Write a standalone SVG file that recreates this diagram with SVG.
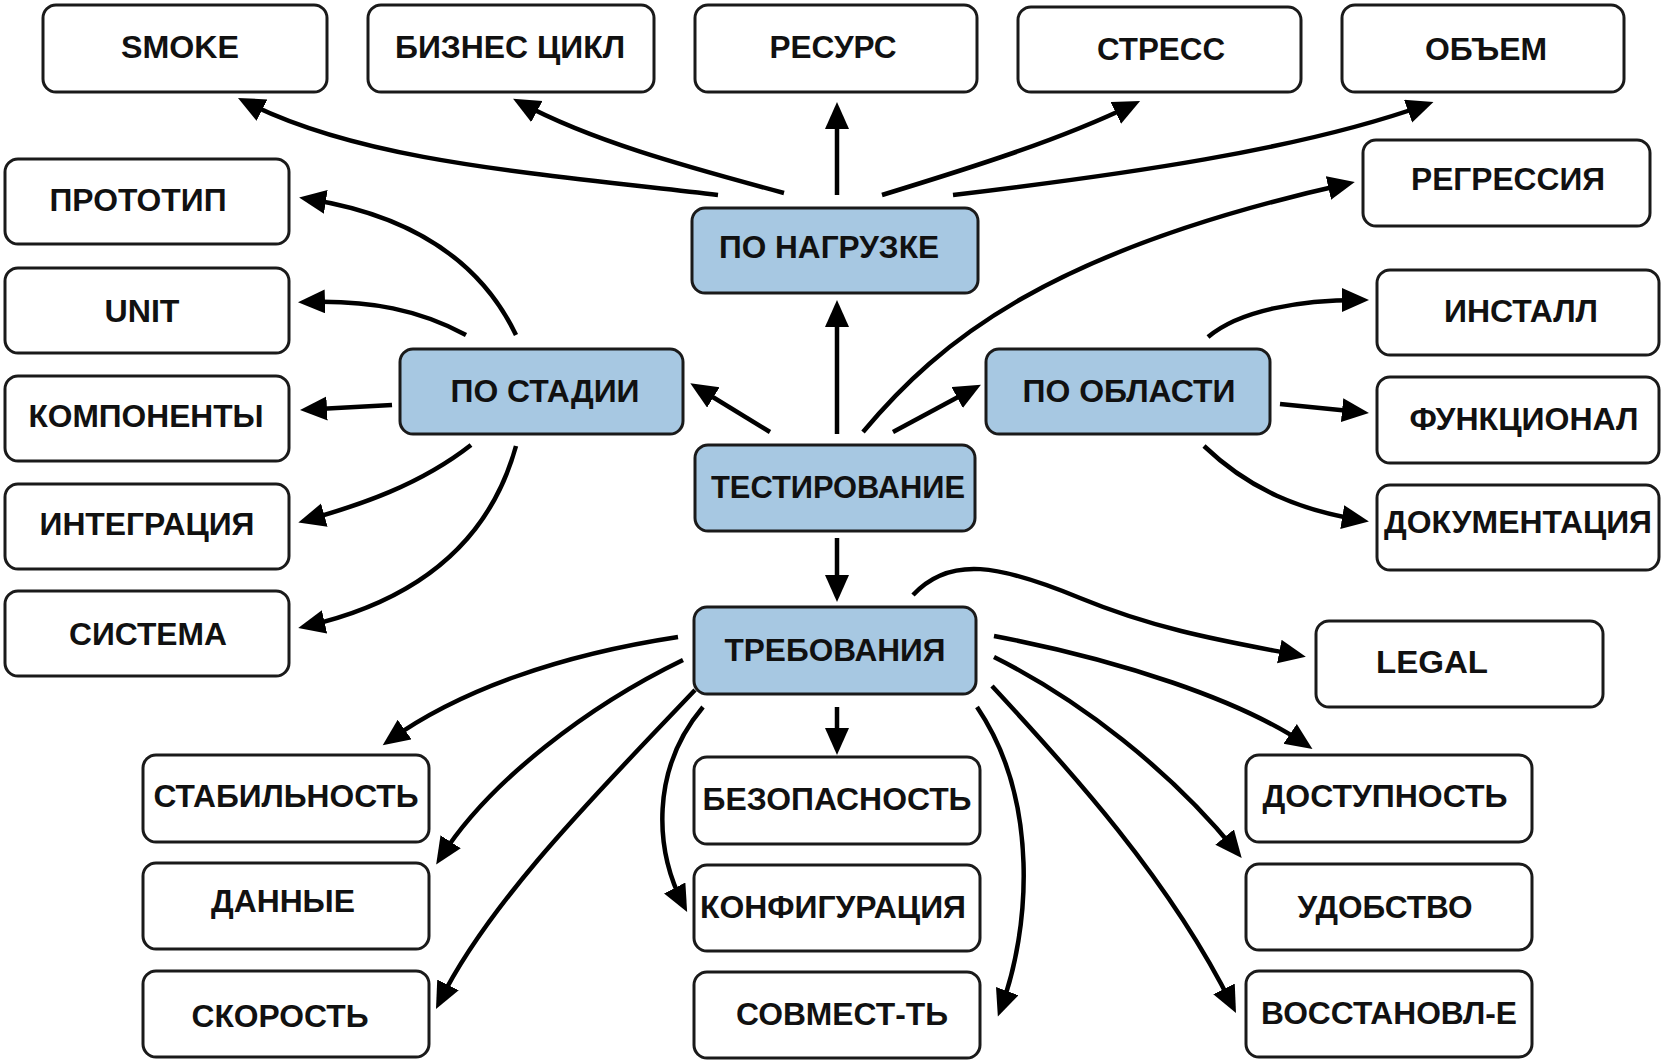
<svg xmlns="http://www.w3.org/2000/svg" width="1661" height="1060" viewBox="0 0 1661 1060">
<style>
.b{fill:#ffffff;stroke:#1a1a1a;stroke-width:3}
.h{fill:#a7c8e2;stroke:#1a1a1a;stroke-width:3}
text{font-family:"Liberation Sans",Arial,sans-serif;font-weight:bold;font-size:32px;fill:#111;text-anchor:middle}
.c path{fill:none;stroke:#000;stroke-width:4.5;marker-end:url(#ah)}
</style>
<defs>
<marker id="ah" markerUnits="userSpaceOnUse" markerWidth="30" markerHeight="26" refX="18" refY="12" orient="auto">
<path d="M0,0 L27,12 L0,24 z" fill="#000"/>
</marker>
</defs>
<g class="c" id="connectors">
<path d="M718,195 C520,172 360,160 246,102"/>
<path d="M784,193 C680,165 590,140 521,103"/>
<path d="M837,195 L837,111"/>
<path d="M882,195 C970,168 1060,140 1132,105"/>
<path d="M953,195 C1120,175 1300,150 1425,105"/>
<path d="M837,434 L837,309"/>
<path d="M770,432 L698,388"/>
<path d="M893,432 L973,389"/>
<path d="M863,432 C940,340 1050,250 1346,184"/>
<path d="M837,538 L837,593"/>
<path d="M516,335 C480,260 410,215 308,199"/>
<path d="M466,335 C420,310 370,300 307,302"/>
<path d="M392,405 L309,409.5"/>
<path d="M471,445 C420,485 360,505 307,520"/>
<path d="M516,446 C490,540 420,600 307,626"/>
<path d="M1208,337 C1240,310 1300,300 1360,300"/>
<path d="M1280,404 L1360,412"/>
<path d="M1204,446 C1250,490 1300,510 1360,520"/>
<path d="M913,595 C950,555 1000,565 1080,598 S1230,642 1297,655"/>
<path d="M994,636 C1120,660 1240,700 1305,744"/>
<path d="M994,657 C1080,700 1170,770 1236,851"/>
<path d="M992,686 C1070,770 1170,880 1232,1005"/>
<path d="M977,707 C1040,800 1030,930 1001,1008"/>
<path d="M837,707 L837,746"/>
<path d="M703,707 C650,770 655,850 683,904"/>
<path d="M695,690 C600,790 490,900 440,1001"/>
<path d="M683,660 C590,705 490,780 441,857"/>
<path d="M678,637 C560,655 460,690 390,740"/>
</g>
<g id="smoke"><rect class="b" x="43" y="5" width="284" height="87" rx="13"/><text x="180" y="57.5" textLength="118" lengthAdjust="spacingAndGlyphs">SMOKE</text></g>
<g id="biznes"><rect class="b" x="368" y="5" width="286" height="87" rx="13"/><text x="510" y="57.5" textLength="230" lengthAdjust="spacingAndGlyphs">БИЗНЕС ЦИКЛ</text></g>
<g id="resurs"><rect class="b" x="695" y="5" width="282" height="87" rx="13"/><text x="833" y="57.5" textLength="127" lengthAdjust="spacingAndGlyphs">РЕСУРС</text></g>
<g id="stress"><rect class="b" x="1018" y="7" width="283" height="85" rx="13"/><text x="1161" y="59.5" textLength="128" lengthAdjust="spacingAndGlyphs">СТРЕСС</text></g>
<g id="obem"><rect class="b" x="1342" y="5" width="282" height="87" rx="13"/><text x="1486" y="59.5" textLength="122" lengthAdjust="spacingAndGlyphs">ОБЪЕМ</text></g>
<g id="prototip"><rect class="b" x="5" y="159" width="284" height="85" rx="13"/><text x="138" y="210.5" textLength="177" lengthAdjust="spacingAndGlyphs">ПРОТОТИП</text></g>
<g id="unit"><rect class="b" x="5" y="268" width="284" height="85" rx="13"/><text x="142" y="321.5" textLength="75" lengthAdjust="spacingAndGlyphs">UNIT</text></g>
<g id="komponenty"><rect class="b" x="5" y="376" width="284" height="85" rx="13"/><text x="146" y="426.5" textLength="235" lengthAdjust="spacingAndGlyphs">КОМПОНЕНТЫ</text></g>
<g id="integraciya"><rect class="b" x="5" y="484" width="284" height="85" rx="13"/><text x="147" y="534.5" textLength="215" lengthAdjust="spacingAndGlyphs">ИНТЕГРАЦИЯ</text></g>
<g id="sistema"><rect class="b" x="5" y="591" width="284" height="85" rx="13"/><text x="148" y="644.5" textLength="158" lengthAdjust="spacingAndGlyphs">СИСТЕМА</text></g>
<g id="po-nagruzke"><rect class="h" x="692" y="208" width="286" height="85" rx="13"/><text x="829" y="257.5" textLength="220" lengthAdjust="spacingAndGlyphs">ПО НАГРУЗКЕ</text></g>
<g id="po-stadii"><rect class="h" x="400" y="349" width="283" height="85" rx="13"/><text x="545" y="401.5" textLength="189" lengthAdjust="spacingAndGlyphs">ПО СТАДИИ</text></g>
<g id="testirovanie"><rect class="h" x="695" y="445" width="280" height="86" rx="13"/><text x="838" y="497.5" textLength="254" lengthAdjust="spacingAndGlyphs">ТЕСТИРОВАНИЕ</text></g>
<g id="po-oblasti"><rect class="h" x="986" y="349" width="284" height="85" rx="13"/><text x="1129" y="401.5" textLength="213" lengthAdjust="spacingAndGlyphs">ПО ОБЛАСТИ</text></g>
<g id="trebovaniya"><rect class="h" x="694" y="607" width="282" height="87" rx="13"/><text x="835" y="660.5" textLength="221" lengthAdjust="spacingAndGlyphs">ТРЕБОВАНИЯ</text></g>
<g id="regressiya"><rect class="b" x="1363" y="140" width="287" height="86" rx="13"/><text x="1508" y="189.5" textLength="194" lengthAdjust="spacingAndGlyphs">РЕГРЕССИЯ</text></g>
<g id="install"><rect class="b" x="1377" y="270" width="282" height="85" rx="13"/><text x="1521" y="321.5" textLength="154" lengthAdjust="spacingAndGlyphs">ИНСТАЛЛ</text></g>
<g id="funkcional"><rect class="b" x="1377" y="377" width="282" height="86" rx="13"/><text x="1524" y="429.5" textLength="229" lengthAdjust="spacingAndGlyphs">ФУНКЦИОНАЛ</text></g>
<g id="dokumentaciya"><rect class="b" x="1377" y="485" width="282" height="85" rx="13"/><text x="1518" y="532.5" textLength="268" lengthAdjust="spacingAndGlyphs">ДОКУМЕНТАЦИЯ</text></g>
<g id="legal"><rect class="b" x="1316" y="621" width="287" height="86" rx="13"/><text x="1432" y="672.5" textLength="112" lengthAdjust="spacingAndGlyphs">LEGAL</text></g>
<g id="stabilnost"><rect class="b" x="143" y="755" width="286" height="87" rx="13"/><text x="286" y="806.5" textLength="265" lengthAdjust="spacingAndGlyphs">СТАБИЛЬНОСТЬ</text></g>
<g id="dannye"><rect class="b" x="143" y="863" width="286" height="86" rx="13"/><text x="283" y="911.5" textLength="144" lengthAdjust="spacingAndGlyphs">ДАННЫЕ</text></g>
<g id="skorost"><rect class="b" x="143" y="971" width="286" height="86" rx="13"/><text x="280" y="1026.5" textLength="177" lengthAdjust="spacingAndGlyphs">СКОРОСТЬ</text></g>
<g id="bezopasnost"><rect class="b" x="694" y="757" width="286" height="87" rx="13"/><text x="837" y="809.5" textLength="269" lengthAdjust="spacingAndGlyphs">БЕЗОПАСНОСТЬ</text></g>
<g id="konfiguraciya"><rect class="b" x="694" y="865" width="286" height="86" rx="13"/><text x="833" y="917.5" textLength="266" lengthAdjust="spacingAndGlyphs">КОНФИГУРАЦИЯ</text></g>
<g id="sovmestimost"><rect class="b" x="694" y="972" width="286" height="86" rx="13"/><text x="842" y="1024.5" textLength="212" lengthAdjust="spacingAndGlyphs">СОВМЕСТ-ТЬ</text></g>
<g id="dostupnost"><rect class="b" x="1246" y="755" width="286" height="87" rx="13"/><text x="1385" y="806.5" textLength="245" lengthAdjust="spacingAndGlyphs">ДОСТУПНОСТЬ</text></g>
<g id="udobstvo"><rect class="b" x="1246" y="864" width="286" height="86" rx="13"/><text x="1385" y="917.5" textLength="175" lengthAdjust="spacingAndGlyphs">УДОБСТВО</text></g>
<g id="vosstanovlenie"><rect class="b" x="1246" y="971" width="286" height="86" rx="13"/><text x="1389" y="1023.5" textLength="256" lengthAdjust="spacingAndGlyphs">ВОССТАНОВЛ-Е</text></g>
</svg>
